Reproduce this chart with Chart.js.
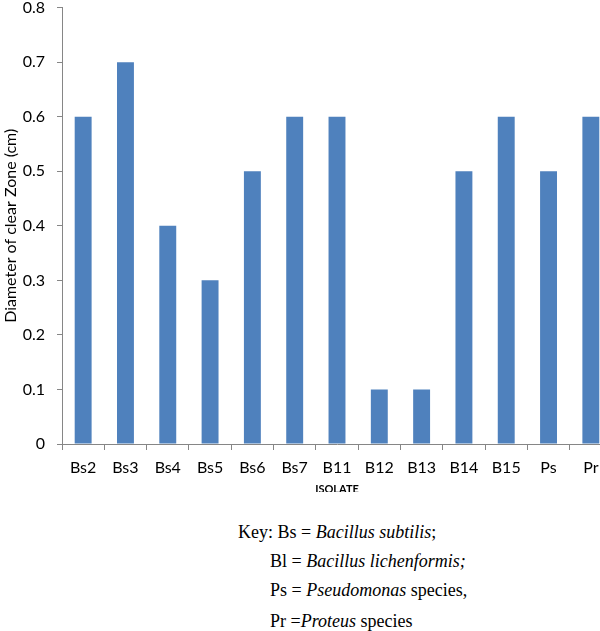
<!DOCTYPE html>
<html>
<head>
<meta charset="utf-8">
<script src="https://cdn.jsdelivr.net/npm/chart.js@4.4.1/dist/chart.umd.min.js"></script>
<style>
  html, body { margin: 0; padding: 0; background: #fff; }
  body { width: 600px; height: 631px; overflow: hidden; position: relative; }
  #wrap { position: absolute; left: 0; top: 0; width: 600px; height: 492px; overflow: hidden; }
  #box { position: relative; top: -14px; width: 620px; height: 514px; }
  .key { position: absolute; font-family: "Liberation Serif", "Times New Roman", serif; font-size: 18px; line-height: 20px; color: #000; white-space: nowrap; }
</style>
</head>
<body>
<div id="wrap"><div id="box"><canvas id="isolateChart"></canvas></div></div>
<div class="key" style="left:238px; top:522px;">Key: Bs = <i>Bacillus subtilis</i>;</div>
<div class="key" style="left:270px; top:551px;">Bl = <i>Bacillus lichenformis;</i></div>
<div class="key" style="left:270px; top:580px;">Ps = <i>Pseudomonas</i> species,</div>
<div class="key" style="left:270px; top:611px;">Pr =<i>Proteus</i> species</div>
<script>
const isolates = ["Bs2", "Bs3", "Bs4", "Bs5", "Bs6", "Bs7", "B11", "B12", "B13", "B14", "B15", "Ps", "Pr"];
const clearZone = [0.6, 0.7, 0.4, 0.3, 0.5, 0.6, 0.6, 0.1, 0.1, 0.5, 0.6, 0.5, 0.6];
const yTicks = [0, 0.1, 0.2, 0.3, 0.4, 0.5, 0.6, 0.7, 0.8];

const ctx = document.getElementById("isolateChart").getContext("2d");
const axisGrey = "#868686";
const sans = "Lato, 'Open Sans', sans-serif";

const chart = new Chart(ctx, {
    type: "bar",
    data: {
        labels: isolates,
        datasets: [
            {
                label: "Diameter of clear Zone (cm)",
                backgroundColor: "#4F81BD",
                data: clearZone,
                categoryPercentage: 1,
                barPercentage: 0.4
            }
        ]
    },
    options: {
        responsive: true,
        maintainAspectRatio: false,
        animation: false,
        layout: { padding: { left: 0, right: 8, top: 0, bottom: 0 } },
        plugins: {
            legend: { display: false },
            tooltip: { enabled: false }
        },
        scales: {
            x: {
                grid: { drawOnChartArea: false, tickLength: 6, color: axisGrey, offset: true },
                border: { color: axisGrey },
                ticks: { color: "#000", font: { family: sans, size: 16 }, padding: 8, maxRotation: 0 },
                title: {
                    display: true,
                    text: "ISOLATE",
                    color: "#000",
                    font: { family: sans, size: 11, weight: "bold" },
                    padding: { top: 0, bottom: 4 }
                },
                afterFit: scale => { scale.height = 56; }
            },
            y: {
                min: 0,
                max: 0.8,
                grid: { drawOnChartArea: false, tickLength: 5, color: axisGrey },
                border: { color: axisGrey },
                afterBuildTicks: scale => { scale.ticks = yTicks.map(v => ({ value: v })); },
                ticks: {
                    color: "#000",
                    font: { family: sans, size: 16 },
                    padding: 12,
                    callback: v => v === 0 ? "0" : v.toFixed(1)
                },
                title: {
                    display: true,
                    text: "Diameter of clear Zone (cm)",
                    color: "#000",
                    font: { family: sans, size: 16 },
                    padding: { top: 1, bottom: 0 }
                },
                afterFit: scale => { scale.width = 62; }
            }
        }
    }
});
</script>
</body>
</html>
